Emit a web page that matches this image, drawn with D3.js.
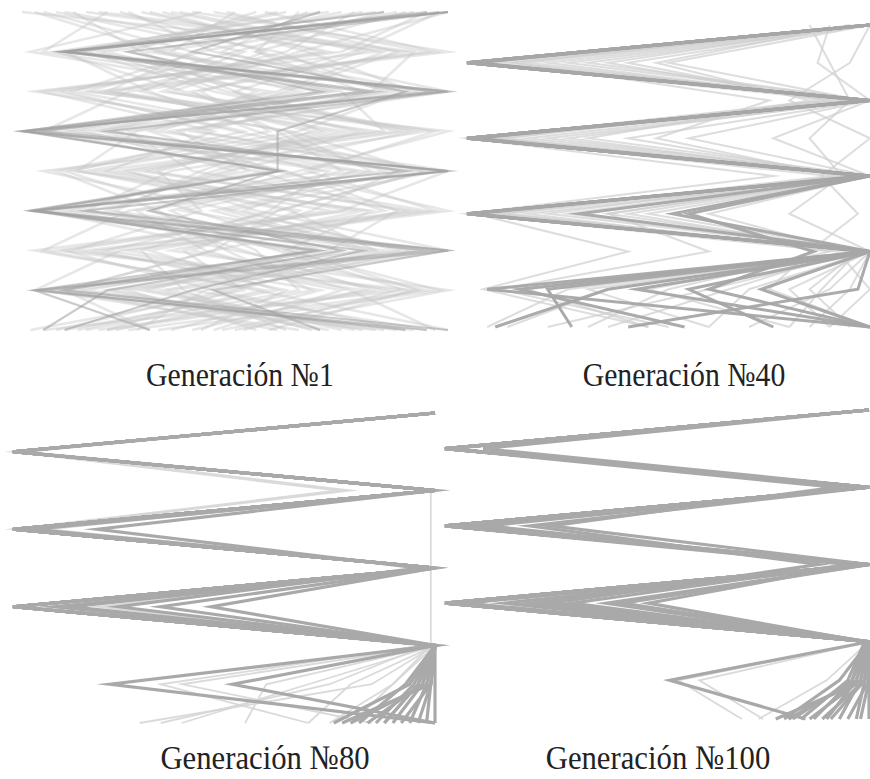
<!DOCTYPE html>
<html>
<head>
<meta charset="utf-8">
<script src="https://cdn.jsdelivr.net/npm/d3@7"></script>
<style>
  body { margin: 0; background: #fff; }
  svg { display: block; }
</style>
</head>
<body>
<svg id="chart" width="870" height="779"></svg>
<script>
// Each route lists the horizontal position (0–100) of its waypoint on rows 0..8.
const rows = [0, 1, 2, 3, 4, 5, 6, 7, 8];

const generationLabels = ["Generación №1", "Generación №40", "Generación №80", "Generación №100"];

// Generation 1: a random population
const gen1Strong = [
  [98, 10, 80, 0, 60, 2, 70, 3, 95],
  [100, 10, 100, 0, 100, 2, 95, 3, 30],
  [95, 12, 83, 5, 100, 4, 68, 10, 100],
  [100, 9, 97, 1, 61, 3, 100, 5, 90],
  [70, 40, 90, 60, 60, 30, 75, 20, 5],
  [100, 25, 70, 0, 100, 15, 100, 45, 70],
  [85, 10, 100, 20, 90, 3, 80, 40, 10]
];
const gen1Faint = [
  [5, 40, 20, 75, 30, 90, 45, 10, 60],
  [90, 55, 100, 35, 70, 15, 85, 50, 20],
  [30, 70, 10, 50, 95, 60, 20, 80, 40],
  [60, 15, 45, 90, 25, 55, 100, 35, 75],
  [15, 85, 60, 20, 80, 5, 50, 95, 25],
  [75, 30, 90, 65, 10, 40, 70, 15, 85],
  [45, 95, 25, 5, 55, 85, 30, 60, 10],
  [100, 65, 35, 80, 45, 20, 95, 25, 55],
  [20, 5, 70, 40, 100, 75, 10, 45, 90],
  [85, 50, 15, 100, 65, 30, 60, 90, 5],
  [10, 60, 85, 25, 40, 95, 15, 70, 35],
  [55, 25, 65, 10, 90, 45, 80, 5, 65],
  [35, 80, 50, 70, 15, 65, 40, 85, 20],
  [70, 10, 30, 55, 85, 25, 5, 55, 100],
  [25, 45, 95, 15, 50, 10, 65, 30, 80],
  [95, 75, 5, 45, 20, 80, 35, 100, 50],
  [50, 35, 75, 85, 5, 50, 90, 20, 70],
  [0, 90, 40, 60, 75, 35, 55, 65, 15],
  [80, 20, 55, 30, 60, 100, 25, 75, 45],
  [40, 100, 20, 95, 35, 15, 75, 40, 95],
  [65, 55, 80, 5, 95, 60, 45, 10, 30],
  [12, 28, 50, 88, 18, 72, 8, 92, 58],
  [88, 42, 12, 62, 82, 38, 92, 48, 8],
  [33, 67, 92, 22, 58, 2, 68, 28, 78],
  [72, 8, 38, 78, 28, 92, 18, 62, 42],
  [48, 88, 62, 32, 98, 48, 82, 12, 88],
  [8, 52, 28, 68, 42, 22, 52, 82, 18],
  [92, 32, 72, 12, 72, 58, 28, 38, 62],
  [28, 72, 8, 52, 12, 82, 62, 98, 32],
  [62, 18, 48, 92, 48, 12, 98, 22, 72],
  [18, 92, 82, 42, 88, 68, 38, 52, 2],
  [78, 62, 22, 72, 32, 42, 12, 88, 52],
  [42, 2, 58, 18, 62, 88, 72, 8, 92],
  [98, 78, 42, 58, 8, 32, 48, 68, 22],
  [3, 33, 73, 3, 78, 52, 88, 33, 68],
  [57, 97, 17, 83, 23, 77, 3, 57, 13],
  [83, 13, 97, 37, 53, 7, 63, 93, 47],
  [23, 57, 33, 97, 67, 97, 23, 3, 83],
  [67, 47, 87, 27, 13, 63, 83, 43, 27],
  [37, 83, 3, 63, 93, 27, 43, 77, 97]
];

// Generation 40
const gen40Strong = [
  [100, 0, 100, 0, 100, 0, 100, 5, 100],
  [100, 1, 100, 1, 100, 0, 99, 13, 54],
  [100, 0, 99, 0, 100, 28, 100, 42, 100],
  [100, 0, 100, 2, 100, 0, 100, 55, 76],
  [100, 2, 100, 0, 100, 51, 100, 73, 100],
  [100, 0, 100, 0, 98, 0, 100, 97, 40],
  [100, 0, 100, 0, 100, 0, 100, 20, 26],
  [100, 0, 100, 0, 100, 55, 86, 60, 100],
  [100, 1, 99, 0, 100, 1, 100, 35, 7]
];
const gen40Faint = [
  [100, 20, 95, 5, 100, 3, 100, 30, 60],
  [98, 35, 90, 10, 97, 10, 95, 45, 80],
  [95, 47, 85, 30, 100, 5, 99, 60, 20],
  [100, 12, 75, 47, 92, 20, 100, 80, 90],
  [90, 87, 100, 76, 100, 35, 100, 90, 70],
  [100, 25, 100, 0, 76, 0, 97, 85, 95],
  [97, 5, 98, 15, 100, 60, 95, 65, 35],
  [100, 40, 88, 3, 90, 8, 100, 25, 5],
  [100, 2, 100, 2, 100, 35, 60, 8, 50],
  [100, 0, 100, 0, 100, 2, 40, 4, 45],
  [85, 90, 95, 85, 93, 80, 100, 95, 85],
  [100, 95, 80, 100, 88, 97, 85, 75, 100],
  [100, 30, 100, 20, 100, 45, 100, 35, 10],
  [100, 0, 93, 0, 100, 15, 90, 50, 30],
  [100, 10, 100, 40, 95, 25, 100, 70, 60],
  [99, 15, 96, 8, 100, 40, 97, 88, 80],
  [100, 50, 98, 25, 97, 3, 100, 15, 45],
  [100, 5, 100, 55, 100, 0, 92, 100, 90]
];

// Generation 80
const gen80Strong = [
  [100, 0, 100, 0, 100, 0, 100, 99, 98],
  [100, 0, 100, 0, 100, 0, 100, 98, 94],
  [100, 0, 100, 0, 100, 14, 100, 97, 90],
  [100, 0, 100, 20, 96, 25, 100, 95, 86],
  [100, 0, 100, 0, 100, 47, 100, 93, 82],
  [100, 1, 100, 3, 100, 0, 100, 23, 100],
  [100, 0, 100, 0, 100, 0, 100, 52, 100],
  [100, 0, 100, 5, 100, 10, 100, 99, 78],
  [100, 0, 100, 0, 100, 35, 100, 96, 88],
  [100, 0, 100, 0, 100, 0, 100, 100, 100],
  [100, 0, 100, 0, 100, 0, 100, 99, 92],
  [100, 0, 100, 0, 100, 0, 100, 97, 84],
  [100, 0, 100, 0, 100, 0, 100, 98, 80],
  [100, 0, 100, 0, 100, 0, 100, 94, 76],
  [100, 0, 100, 0, 100, 0, 100, 99, 96],
  [100, 0, 100, 0, 100, 0, 100, 96, 88]
];
const gen80Faint = [
  [100, 0, 77, 0, 100, 0, 100, 90, 75],
  [100, 3, 80, 2, 100, 5, 100, 80, 70],
  [100, 0, 99, 99, 99, 99, 99, 90, 80],
  [100, 0, 100, 0, 100, 0, 100, 70, 40],
  [100, 0, 100, 0, 100, 0, 100, 60, 55],
  [100, 0, 100, 0, 100, 20, 100, 40, 85],
  [100, 0, 100, 8, 100, 0, 97, 35, 70],
  [100, 0, 100, 0, 100, 0, 98, 75, 35],
  [100, 0, 100, 0, 100, 0, 100, 85, 30]
];

// Generation 100
const gen100Strong = [
  [100, 0, 100, 0, 100, 0, 100, 99, 97],
  [100, 0, 100, 0, 100, 0, 100, 98, 93],
  [100, 0, 100, 2, 100, 14, 100, 97, 90],
  [100, 1, 98, 5, 100, 38, 100, 96, 87],
  [100, 0, 100, 10, 97, 48, 99, 95, 84],
  [100, 9, 100, 20, 88, 25, 100, 93, 80],
  [100, 0, 92, 25, 100, 5, 100, 53, 85],
  [100, 0, 100, 0, 100, 42, 100, 100, 95],
  [100, 0, 100, 3, 100, 20, 100, 99, 78],
  [100, 0, 100, 0, 95, 30, 99, 96, 82],
  [100, 0, 100, 0, 100, 0, 100, 100, 100],
  [100, 0, 100, 0, 100, 0, 100, 99, 91],
  [100, 0, 100, 0, 100, 0, 100, 98, 86],
  [100, 0, 100, 0, 100, 0, 100, 97, 81],
  [100, 0, 100, 0, 100, 0, 100, 99, 89],
  [100, 0, 100, 0, 100, 0, 100, 100, 98]
];
const gen100Faint = [
  [100, 0, 100, 0, 100, 0, 100, 60, 75],
  [100, 0, 100, 0, 100, 5, 100, 55, 70],
  [100, 0, 100, 0, 100, 0, 100, 90, 74]
];

// Panel layout and line styles
const panels = [
  { label: generationLabels[0], strong: gen1Strong, faint: gen1Faint,
    xr: [22, 448], yr: [12, 330], lx: 240, ly: 386, fs: 31,
    faintStyle: { c: "#c6c6c6", w: 2.6, o: 0.42 }, strongStyle: { c: "#a0a0a0", w: 2.2, o: 0.55 } },
  { label: generationLabels[1], strong: gen40Strong, faint: gen40Faint,
    xr: [467, 870], yr: [25, 327], lx: 684, ly: 386, fs: 31,
    faintStyle: { c: "#cfcfcf", w: 2, o: 0.7 }, strongStyle: { c: "#a6a6a6", w: 3, o: 0.95 } },
  { label: generationLabels[2], strong: gen80Strong, faint: gen80Faint,
    xr: [13, 435], yr: [413, 723], lx: 265, ly: 769, fs: 32,
    faintStyle: { c: "#d6d6d6", w: 1.8, o: 0.9 }, strongStyle: { c: "#a9a9a9", w: 3.2, o: 1 } },
  { label: generationLabels[3], strong: gen100Strong, faint: gen100Faint,
    xr: [445, 869], yr: [410, 719], lx: 658, ly: 769, fs: 32,
    faintStyle: { c: "#d6d6d6", w: 1.8, o: 0.9 }, strongStyle: { c: "#a9a9a9", w: 3.2, o: 1 } }
];

const svg = d3.select("#chart");

const defs = svg.append("defs");
defs.append("filter").attr("id", "soft")
  .attr("x", "-5%").attr("y", "-5%").attr("width", "110%").attr("height", "110%")
  .append("feGaussianBlur").attr("stdDeviation", 0.6);

panels.forEach(p => {
  const x = d3.scaleLinear().domain([0, 100]).range(p.xr);
  const y = d3.scaleLinear().domain([0, rows.length - 1]).range(p.yr);
  const line = d3.line()
    .x(d => x(d))
    .y((d, i) => y(rows[i]))
    .curve(d3.curveLinear);

  const g = svg.append("g").attr("filter", "url(#soft)");

  g.selectAll("path.faint")
    .data(p.faint)
    .join("path")
    .attr("class", "faint")
    .attr("d", line)
    .attr("fill", "none")
    .attr("stroke", p.faintStyle.c)
    .attr("stroke-width", p.faintStyle.w)
    .attr("stroke-opacity", p.faintStyle.o)
    .attr("stroke-linejoin", "miter")
    .attr("stroke-miterlimit", 10);

  g.selectAll("path.strong")
    .data(p.strong)
    .join("path")
    .attr("class", "strong")
    .attr("d", line)
    .attr("fill", "none")
    .attr("stroke", p.strongStyle.c)
    .attr("stroke-width", p.strongStyle.w)
    .attr("stroke-opacity", p.strongStyle.o)
    .attr("stroke-linejoin", "miter")
    .attr("stroke-miterlimit", 10);

  // Caption under each panel, slightly condensed serif
  svg.append("text")
    .attr("transform", `translate(${p.lx},${p.ly}) scale(0.96,1.08)`)
    .attr("text-anchor", "middle")
    .attr("font-family", "'Liberation Serif', 'Times New Roman', serif")
    .attr("font-size", p.fs)
    .attr("fill", "#222")
    .text(p.label);
});
</script>
</body>
</html>
